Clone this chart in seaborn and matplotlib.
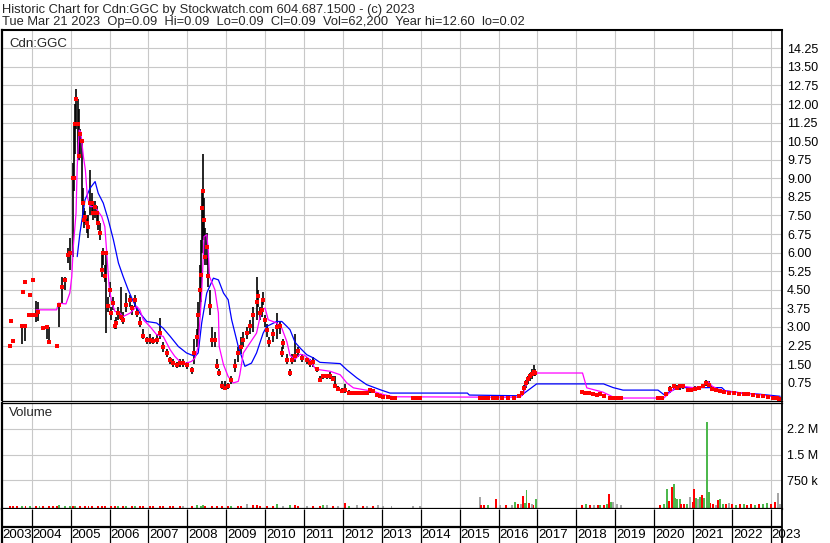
import matplotlib
matplotlib.use('Agg')
import matplotlib.pyplot as plt
import seaborn as sns

# ---- price bars (fractional year, low, high, close) ----
bar_year = [
    2003.44, 2003.47, 2003.53, 2003.75, 2003.77, 2003.83, 2003.84, 2003.93, 2003.96,
    2004.03, 2004.04, 2004.11, 2004.16, 2004.28, 2004.39, 2004.44, 2004.64, 2004.69, 2004.78, 2004.85, 2004.93, 2004.98,
    2005.05, 2005.09, 2005.12, 2005.15, 2005.18, 2005.21, 2005.25, 2005.29, 2005.32, 2005.35, 2005.38, 2005.41, 2005.46,
    2005.50, 2005.54, 2005.58, 2005.63, 2005.67, 2005.71, 2005.76, 2005.80, 2005.84, 2005.88, 2005.91, 2005.95,
    2006.00, 2006.04, 2006.08, 2006.13, 2006.17, 2006.22, 2006.30, 2006.35, 2006.43, 2006.52, 2006.57, 2006.65, 2006.70, 2006.78, 2006.87, 2006.96,
    2007.04, 2007.13, 2007.21, 2007.30, 2007.38, 2007.47, 2007.56, 2007.64, 2007.73, 2007.81, 2007.90, 2007.98,
    2008.11, 2008.18, 2008.24, 2008.28, 2008.32, 2008.35, 2008.38, 2008.40, 2008.43, 2008.46, 2008.50, 2008.54, 2008.59, 2008.63, 2008.70, 2008.76, 2008.82, 2008.90, 2008.97,
    2009.05, 2009.12, 2009.22, 2009.30, 2009.38, 2009.44, 2009.53, 2009.61, 2009.70, 2009.78, 2009.83, 2009.87, 2009.91, 2009.95,
    2010.00, 2010.05, 2010.11, 2010.20, 2010.30, 2010.38, 2010.43, 2010.47, 2010.56, 2010.64, 2010.68, 2010.77, 2010.85, 2010.95,
    2011.07, 2011.15, 2011.24, 2011.33, 2011.41, 2011.49, 2011.58, 2011.67, 2011.75, 2011.80, 2011.88, 2011.98,
    2012.05, 2012.15, 2012.27, 2012.36, 2012.45, 2012.52, 2012.62, 2012.70, 2012.78, 2012.87, 2012.95,
    2013.04, 2013.15, 2013.25, 2013.34, 2013.80, 2013.90, 2013.98,
    2015.52, 2015.62, 2015.72, 2015.85, 2015.95,
    2016.10, 2016.25, 2016.40, 2016.52, 2016.60, 2016.65, 2016.70, 2016.75, 2016.80, 2016.85, 2016.90, 2016.95,
    2018.14, 2018.22, 2018.32, 2018.42, 2018.52, 2018.62, 2018.72, 2018.86, 2018.95, 2019.05, 2019.15,
    2020.11, 2020.20, 2020.30, 2020.40, 2020.50, 2020.58, 2020.66, 2020.75, 2020.87, 2020.95,
    2021.05, 2021.15, 2021.25, 2021.33, 2021.40, 2021.50, 2021.60, 2021.70, 2021.80, 2021.92,
    2022.05, 2022.18, 2022.30, 2022.42, 2022.55, 2022.68, 2022.80, 2022.92,
    2023.05, 2023.15, 2023.22,
]
bar_low = [
    2.25, 3.22, 2.44, 2.33, 4.43, 4.83, 2.44, 3.5, 4.3,
    4.9, 3.5, 3.2, 3.22, 2.95, 2.5, 2.4, 2.25, 3.0, 3.95, 4.5, 5.6, 5.3,
    5.84, 8.5, 10.0, 11.0, 9.9, 9.74, 10.0, 8.0, 7.3, 7.0, 7.2, 6.8, 6.6,
    7.5, 7.5, 7.3, 7.4, 7.2, 6.9, 6.5, 5.0, 5.5, 4.8, 2.75, 3.6,
    4.2, 3.3, 3.7, 2.9, 2.9, 3.3, 3.3, 3.1, 3.6, 3.8, 3.5, 3.8, 3.4, 3.0, 2.5, 2.3,
    2.3, 2.3, 2.3, 2.5, 2.0, 1.8, 1.5, 1.4, 1.35, 1.4, 1.4, 1.3,
    1.1, 1.5, 2.2, 2.6, 3.5, 4.0, 6.0, 6.5, 6.5, 5.5, 5.5, 4.6, 3.5, 2.2, 2.2, 1.3, 1.0, 0.5, 0.5,
    0.5, 0.7, 1.2, 1.6, 1.9, 2.2, 2.5, 2.7, 2.8, 3.3, 3.8, 3.3, 3.4, 3.9,
    3.0, 2.6, 2.2, 2.4, 2.5, 2.7, 1.8, 2.1, 1.5, 1.0, 1.5, 1.6, 1.8, 1.6,
    1.5, 1.4, 1.4, 1.2, 0.8, 0.9, 0.9, 0.9, 0.8, 0.55, 0.45, 0.35,
    0.35, 0.3, 0.3, 0.3, 0.3, 0.3, 0.3, 0.35, 0.33, 0.2, 0.18,
    0.15, 0.15, 0.14, 0.14, 0.12, 0.12, 0.12,
    0.12, 0.13, 0.12, 0.12, 0.13,
    0.12, 0.13, 0.13, 0.15, 0.2, 0.4, 0.55, 0.7, 0.8, 0.9, 1.0, 1.0,
    0.33, 0.3, 0.3, 0.28, 0.25, 0.25, 0.2, 0.12, 0.12, 0.12, 0.1,
    0.1, 0.12, 0.2, 0.35, 0.5, 0.5, 0.45, 0.5, 0.4, 0.4,
    0.45, 0.5, 0.55, 0.6, 0.55, 0.45, 0.4, 0.35, 0.33, 0.33,
    0.3, 0.28, 0.27, 0.25, 0.22, 0.2, 0.18, 0.15,
    0.12, 0.1, 0.09,
]
bar_high = [
    2.25, 3.22, 2.44, 3.02, 4.43, 4.83, 3.02, 3.5, 4.3,
    4.9, 3.5, 4.05, 4.0, 2.95, 3.0, 3.0, 2.25, 3.95, 5.0, 5.0, 6.2, 6.6,
    9.6, 11.1, 12.0, 12.6, 12.2, 11.8, 11.0, 10.6, 8.6, 7.8, 7.7, 7.4, 7.5,
    9.34, 8.4, 8.0, 8.1, 7.9, 7.5, 7.2, 6.0, 6.2, 5.5, 6.0, 4.2,
    4.8, 3.8, 4.2, 3.3, 3.4, 3.8, 4.63, 3.6, 4.37, 4.3, 3.9, 4.3, 3.8, 3.4, 2.9, 2.6,
    2.7, 2.6, 2.7, 3.36, 2.4, 2.1, 1.8, 1.7, 1.6, 1.7, 1.7, 1.6,
    1.4, 2.5, 2.9, 4.0, 5.5, 6.5, 8.5, 10.0, 8.2, 7.0, 6.8, 5.8, 4.5, 3.0, 2.8, 1.7, 1.3, 0.8, 0.8,
    0.75, 1.0, 1.7, 2.2, 2.6, 2.8, 3.0, 3.3, 3.8, 5.0, 4.5, 3.8, 4.0, 4.4,
    3.5, 3.1, 2.6, 2.9, 3.56, 3.2, 2.2, 2.5, 1.9, 1.3, 1.9, 2.7, 2.2, 1.9,
    1.8, 1.7, 1.8, 1.4, 1.0, 1.1, 1.1, 1.2, 1.0, 1.0, 0.6, 0.55,
    0.7, 0.45, 0.4, 0.35, 0.4, 0.35, 0.4, 0.5, 0.45, 0.3, 0.22,
    0.2, 0.2, 0.18, 0.18, 0.15, 0.15, 0.14,
    0.15, 0.16, 0.15, 0.15, 0.16,
    0.16, 0.16, 0.17, 0.22, 0.4, 0.65, 0.85, 1.0, 1.15, 1.3, 1.45, 1.3,
    0.4, 0.36, 0.36, 0.33, 0.3, 0.33, 0.27, 0.15, 0.15, 0.15, 0.14,
    0.14, 0.15, 0.35, 0.6, 0.7, 0.65, 0.7, 0.7, 0.55, 0.55,
    0.6, 0.62, 0.7, 0.87, 0.8, 0.6, 0.55, 0.5, 0.45, 0.42,
    0.4, 0.38, 0.35, 0.33, 0.3, 0.28, 0.25, 0.22,
    0.18, 0.14, 0.1,
]
bar_close = [
    2.25, 3.22, 2.44, 3.02, 4.43, 4.83, 3.02, 3.5, 4.3,
    4.9, 3.5, 3.5, 3.6, 2.95, 3.0, 2.4, 2.25, 3.9, 4.6, 4.9, 5.9, 6.0,
    9.0, 9.0, 11.2, 12.2, 11.2, 9.9, 10.8, 10.5, 8.0, 7.3, 7.45, 7.2, 7.05,
    8.0, 8.0, 7.6, 7.86, 7.6, 7.2, 6.79, 5.3, 5.98, 5.04, 5.98, 3.83,
    4.5, 3.56, 3.96, 3.02, 3.16, 3.56, 3.4, 3.29, 3.9, 4.1, 3.76, 4.1, 3.56, 3.16, 2.62, 2.48,
    2.48, 2.42, 2.48, 2.75, 2.21, 1.95, 1.68, 1.54, 1.48, 1.54, 1.54, 1.48,
    1.27, 1.95, 2.6, 3.5, 4.5, 5.1, 7.8, 8.5, 7.3, 5.84, 6.24, 5.04, 3.83, 2.48, 2.48, 1.41, 1.14, 0.6, 0.55,
    0.6, 0.87, 1.41, 1.95, 2.2, 2.48, 2.75, 3.02, 3.5, 4.0, 4.23, 3.56, 3.69, 4.1,
    3.29, 2.89, 2.4, 2.7, 3.0, 3.02, 1.95, 2.35, 1.68, 1.14, 1.68, 1.81, 2.01, 1.75,
    1.68, 1.55, 1.6, 1.3, 0.87, 1.0, 1.0, 1.0, 0.9, 0.6, 0.5, 0.4,
    0.45, 0.35, 0.33, 0.33, 0.33, 0.33, 0.35, 0.47, 0.4, 0.25, 0.2,
    0.17, 0.17, 0.15, 0.15, 0.13, 0.13, 0.13,
    0.14, 0.15, 0.14, 0.14, 0.15,
    0.14, 0.15, 0.15, 0.2, 0.35, 0.55, 0.75, 0.9, 1.0, 1.1, 1.2, 1.15,
    0.36, 0.33, 0.33, 0.3, 0.27, 0.28, 0.22, 0.13, 0.13, 0.13, 0.12,
    0.12, 0.13, 0.3, 0.5, 0.6, 0.55, 0.62, 0.6, 0.45, 0.47,
    0.5, 0.55, 0.6, 0.75, 0.65, 0.5, 0.45, 0.42, 0.38, 0.35,
    0.33, 0.3, 0.3, 0.28, 0.25, 0.22, 0.2, 0.18,
    0.15, 0.12, 0.09,
]

# ---- short (magenta) and long (blue) moving averages, as drawn ----
ma_short_year = [
    2004.11, 2004.64, 2004.69, 2004.88, 2004.98, 2005.03, 2005.07, 2005.14, 2005.17, 2005.22, 2005.26,
    2005.33, 2005.38, 2005.43, 2005.50, 2005.63, 2005.71, 2005.80, 2005.88, 2005.93, 2005.99,
    2006.06, 2006.14, 2006.27, 2006.35, 2006.53, 2006.70, 2006.78, 2006.87,
    2007.04, 2007.21, 2007.38, 2007.47, 2007.56, 2007.68, 2007.85, 2007.98,
    2008.11, 2008.20, 2008.28, 2008.37, 2008.43, 2008.50, 2008.54, 2008.57, 2008.71, 2008.80, 2008.82, 2008.93,
    2009.05, 2009.18, 2009.31, 2009.35, 2009.44, 2009.61, 2009.78, 2009.91, 2010.00, 2010.08, 2010.30,
    2010.43, 2010.56, 2010.64, 2010.77, 2010.90, 2011.02, 2011.15, 2011.28, 2011.41, 2011.67, 2011.93,
    2012.10, 2012.27, 2012.52, 2012.78, 2013.04, 2013.30, 2016.55, 2016.64, 2016.72, 2016.80, 2017.00,
    2018.16, 2018.27, 2018.68, 2018.91, 2018.99, 2020.25, 2020.40, 2020.60, 2020.75, 2021.00, 2021.20,
    2021.38, 2021.50, 2021.70, 2022.00, 2022.30, 2022.70, 2023.00, 2023.24,
]
ma_short = [
    3.69, 3.69, 3.96, 3.93, 4.37, 5.03, 6.25, 7.6, 9.47, 10.95, 10.88,
    9.87, 9.34, 8.26, 7.86, 7.86, 7.66, 7.46, 7.05, 5.98, 4.63,
    3.96, 3.63, 3.56, 3.42, 3.56, 3.83, 3.69, 3.29,
    3.02, 2.69, 2.62, 2.35, 2.08, 1.81, 1.54, 1.54,
    1.61, 1.75, 2.21, 4.37, 6.65, 6.72, 6.11, 5.04, 4.5, 3.56, 2.21, 1.48,
    1.0, 0.74, 0.8, 1.07, 1.95, 2.35, 2.75, 3.69, 3.76, 3.29, 3.16,
    2.95, 2.4, 1.85, 1.7, 1.9, 1.85, 1.68, 1.34, 1.27, 1.21, 1.07,
    0.74, 0.54, 0.47, 0.4, 0.27, 0.18, 0.16, 0.3, 0.7, 1.0, 1.14,
    1.14, 0.54, 0.37, 0.2, 0.13, 0.13, 0.35, 0.6, 0.6, 0.55, 0.58,
    0.8, 0.6, 0.45, 0.38, 0.33, 0.27, 0.2, 0.15,
]
ma_long_year = [
    2005.17, 2005.24, 2005.37, 2005.50, 2005.63, 2005.71, 2005.84, 2005.97, 2006.10, 2006.23, 2006.35,
    2006.48, 2006.61, 2006.78, 2006.96, 2007.21, 2007.38, 2007.56, 2007.77, 2007.98, 2008.20, 2008.28,
    2008.37, 2008.50, 2008.67, 2008.80, 2008.93, 2009.05, 2009.14, 2009.31, 2009.48, 2009.65, 2009.78,
    2009.95, 2010.04, 2010.30, 2010.43, 2010.56, 2010.64, 2010.77, 2010.90, 2011.07, 2011.24, 2011.41,
    2011.93, 2012.10, 2012.36, 2012.61, 2012.95, 2013.21, 2015.20, 2015.25, 2016.55, 2016.64, 2016.98,
    2018.70, 2018.95, 2019.20, 2020.10, 2020.25, 2020.62, 2021.74, 2021.82, 2022.25, 2022.67, 2023.24,
]
ma_long = [
    5.84, 6.79, 8.13, 8.6, 8.87, 8.4, 8.0, 7.32, 6.52, 5.58, 5.04,
    4.5, 4.03, 3.56, 3.22, 3.16, 2.95, 2.62, 2.21, 1.95, 1.81, 1.95,
    3.16, 4.37, 4.97, 4.9, 4.37, 4.1, 3.29, 2.21, 1.41, 1.54, 1.95,
    2.75, 3.02, 3.22, 3.22, 3.02, 2.89, 2.38, 2.15, 1.88, 1.75, 1.57,
    1.52, 1.27, 0.94, 0.67, 0.47, 0.33, 0.33, 0.25, 0.22, 0.3, 0.7,
    0.7, 0.55, 0.45, 0.45, 0.27, 0.55, 0.55, 0.43, 0.33, 0.29, 0.2,
]

# ---- volume (u = up / green, d = down / red, f = unchanged / grey) ----
vol_year = [
    2003.44, 2003.53, 2003.62, 2003.75, 2003.84, 2003.96,
    2004.11, 2004.20, 2004.28, 2004.44, 2004.55, 2004.64, 2004.69, 2004.85, 2004.98,
    2005.05, 2005.12, 2005.25, 2005.38, 2005.46, 2005.54, 2005.71, 2005.80, 2005.88,
    2006.04, 2006.13, 2006.22, 2006.35, 2006.43, 2006.57, 2006.65, 2006.78, 2006.87,
    2007.04, 2007.13, 2007.30, 2007.38, 2007.56, 2007.64, 2007.81, 2007.90,
    2008.11, 2008.24, 2008.35, 2008.40, 2008.46, 2008.63, 2008.76, 2008.90,
    2009.05, 2009.12, 2009.30, 2009.38, 2009.53, 2009.70, 2009.78, 2009.87,
    2010.05, 2010.20, 2010.31, 2010.47, 2010.64, 2010.77, 2010.85,
    2011.07, 2011.24, 2011.41, 2011.49, 2011.58, 2011.75, 2011.88,
    2012.05, 2012.15, 2012.36, 2012.52, 2012.62, 2012.78, 2012.91,
    2013.04, 2013.25, 2013.80, 2013.98,
    2015.52, 2015.56, 2015.62, 2015.72, 2015.94,
    2016.05, 2016.20, 2016.35, 2016.42, 2016.50, 2016.58, 2016.64, 2016.68, 2016.72, 2016.78, 2016.85, 2016.90, 2016.96,
    2018.14, 2018.25, 2018.35, 2018.45, 2018.55, 2018.62, 2018.70, 2018.80, 2018.85, 2018.90, 2018.95, 2019.05, 2019.15,
    2020.15, 2020.25, 2020.32, 2020.38, 2020.45, 2020.50, 2020.55, 2020.60, 2020.66, 2020.70, 2020.78, 2020.85, 2020.92,
    2021.00, 2021.03, 2021.08, 2021.13, 2021.18, 2021.23, 2021.28, 2021.35, 2021.40, 2021.45, 2021.52, 2021.60,
    2021.65, 2021.70, 2021.78, 2021.85, 2021.92,
    2022.00, 2022.10, 2022.20, 2022.30, 2022.40, 2022.50, 2022.60, 2022.70, 2022.80, 2022.90,
    2023.00, 2023.10, 2023.19, 2023.24,
]
vol_value = [
    20e3, 12e3, 10e3, 15e3, 10e3, 18e3,
    12e3, 10e3, 8e3, 10e3, 12e3, 8e3, 40e3, 12e3, 15e3,
    15e3, 20e3, 15e3, 15e3, 12e3, 10e3, 12e3, 10e3, 15e3,
    10e3, 12e3, 12e3, 10e3, 10e3, 12e3, 8e3, 10e3, 10e3,
    12e3, 10e3, 12e3, 12e3, 10e3, 8e3, 12e3, 10e3,
    10e3, 35e3, 20e3, 25e3, 15e3, 12e3, 15e3, 10e3,
    12e3, 15e3, 15e3, 20e3, 58e3, 25e3, 30e3, 20e3,
    15e3, 20e3, 58e3, 20e3, 30e3, 25e3, 15e3,
    20e3, 15e3, 20e3, 45e3, 40e3, 20e3, 15e3,
    104e3, 20e3, 25e3, 20e3, 15e3, 20e3, 30e3,
    10e3, 10e3, 8e3, 8e3,
    277e3, 50e3, 25e3, 30e3, 210e3,
    30e3, 25e3, 30e3, 133e3, 60e3, 80e3, 306e3, 90e3, 470e3, 100e3, 60e3, 50e3, 200e3,
    40e3, 60e3, 30e3, 40e3, 35e3, 40e3, 30e3, 80e3, 355e3, 120e3, 120e3, 60e3, 40e3,
    40e3, 60e3, 490e3, 150e3, 565e3, 643e3, 250e3, 220e3, 200e3, 60e3, 80e3, 60e3, 280e3,
    120e3, 490e3, 250e3, 200e3, 280e3, 320e3, 250e3, 2440e3, 421e3, 100e3, 60e3, 40e3,
    180e3, 200e3, 80e3, 60e3, 100e3,
    60e3, 40e3, 80e3, 60e3, 40e3, 80e3, 50e3, 70e3, 60e3, 100e3,
    80e3, 120e3, 375e3, 62e3,
]
vol_dir = [
    'd', 'd', 'd', 'u', 'd', 'u',
    'd', 'u', 'd', 'd', 'd', 'd', 'u', 'u', 'u',
    'd', 'u', 'd', 'd', 'd', 'd', 'd', 'd', 'd',
    'd', 'd', 'u', 'd', 'u', 'd', 'u', 'd', 'd',
    'd', 'd', 'd', 'd', 'd', 'd', 'd', 'f',
    'd', 'u', 'u', 'u', 'd', 'd', 'd', 'd',
    'd', 'u', 'd', 'd', 'f', 'd', 'd', 'd',
    'd', 'd', 'u', 'f', 'u', 'd', 'd',
    'f', 'd', 'd', 'u', 'f', 'd', 'f',
    'd', 'u', 'f', 'd', 'f', 'd', 'f',
    'f', 'f', 'f', 'f',
    'f', 'd', 'd', 'u', 'd',
    'f', 'd', 'f', 'u', 'd', 'f', 'd', 'u', 'u', 'd', 'f', 'd', 'u',
    'd', 'u', 'd', 'f', 'd', 'u', 'd', 'u', 'd', 'u', 'f', 'f', 'f',
    'd', 'u', 'u', 'd', 'd', 'u', 'u', 'u', 'u', 'd', 'd', 'u', 'f',
    'd', 'd', 'u', 'f', 'u', 'd', 'u', 'u', 'u', 'd', 'd', 'f',
    'd', 'u', 'u', 'd', 'f',
    'd', 'u', 'd', 'u', 'd', 'd', 'u', 'd', 'u', 'u',
    'd', 'd', 'f', 'f',
]

year_ticks = list(range(2004, 2024))
year_labels = list(range(2003, 2024))
price_ticks = [0.75 * i for i in range(1, 20)]
vol_ticks = [750e3, 1.5e6, 2.25e6]
vol_tick_labels = ['750 k', '1.5 M', '2.2 M']

header_1 = 'Historic Chart for Cdn:GGC by Stockwatch.com 604.687.1500 - (c) 2023'
header_2 = 'Tue Mar 21 2023  Op=0.09  Hi=0.09  Lo=0.09  Cl=0.09  Vol=62,200  Year hi=12.60  lo=0.02'

assert len(bar_year) == len(bar_low) == len(bar_high) == len(bar_close)
assert len(ma_short_year) == len(ma_short) and len(ma_long_year) == len(ma_long)
assert len(vol_year) == len(vol_value) == len(vol_dir)

sns.set_style('white')
plt.rcParams['font.family'] = ['Liberation Sans', 'DejaVu Sans']
plt.rcParams['font.size'] = 9

W, H = 830, 543
fig = plt.figure(figsize=(W / 100, H / 100), dpi=100)


def box(x0, y0, x1, y1):
    # pixel box (top-left origin) -> figure fraction
    return [x0 / W, 1 - y1 / H, (x1 - x0) / W, (y1 - y0) / H]


px_year = 38.9
x_left = 2004 + (1.5 - 31.7) / px_year
x_right = 2004 + (781.5 - 31.7) / px_year
grid_c = '#c8c8c8'
vol_colors = {'u': '#4db84d', 'd': '#ff0000', 'f': '#a6a6a6'}

# price panel
ax = fig.add_axes(box(1.5, 30, 781.5, 400.5))
ax.set_xlim(x_left, x_right)
ax.set_ylim(0.03, 14.99)
ax.set_xticks(year_ticks)
ax.set_yticks(price_ticks)
ax.set_yticklabels(['{:.2f}'.format(v) for v in price_ticks])
ax.grid(True, color=grid_c, lw=0.8)
ax.set_axisbelow(True)
ax.yaxis.tick_right()
ax.tick_params(axis='x', length=0, labelbottom=False)
ax.tick_params(axis='y', length=0, pad=4, labelsize=9, labelcolor='black')

ax.vlines(bar_year, bar_low, bar_high, color='black', lw=1.2, zorder=2)
sns.lineplot(x=ma_long_year, y=ma_long, ax=ax, color='#0000ff', lw=0.9,
             estimator=None, sort=False, zorder=3)
sns.lineplot(x=ma_short_year, y=ma_short, ax=ax, color='#ff00ff', lw=0.9,
             estimator=None, sort=False, zorder=3)
sns.scatterplot(x=bar_year, y=bar_close, ax=ax, marker='s', s=5, color='#ff0000',
                linewidth=0, zorder=4)
ax.set_xlabel('')
ax.set_ylabel('')

# volume panel (bars rise from the panel floor, tops at the real volume)
vol_floor = -63e3
axv = fig.add_axes(box(1.5, 402.5, 781.5, 508.5))
axv.set_xlim(x_left, x_right)
axv.set_ylim(vol_floor, 3.009e6)
axv.set_xticks(year_ticks)
axv.set_yticks(vol_ticks)
axv.set_yticklabels(vol_tick_labels)
axv.grid(True, color=grid_c, lw=0.8)
axv.set_axisbelow(True)
axv.yaxis.tick_right()
axv.tick_params(axis='x', length=0, labelbottom=False)
axv.tick_params(axis='y', length=0, pad=4, labelsize=9, labelcolor='black')
axv.bar(vol_year, [v - vol_floor for v in vol_value], bottom=vol_floor, width=0.05,
        color=[vol_colors[d] for d in vol_dir], linewidth=0, zorder=2)

for a in (ax, axv):
    for side in ('left', 'right', 'top', 'bottom'):
        a.spines[side].set_color('black')
    a.spines['left'].set_linewidth(1.6)
    a.spines['right'].set_linewidth(1.3)
ax.spines['top'].set_linewidth(1.5)
ax.spines['bottom'].set_linewidth(0.9)
axv.spines['top'].set_linewidth(0.9)
axv.spines['bottom'].set_linewidth(1.6)

# date band under the volume panel
axd = fig.add_axes(box(1.5, 508.5, 781.5, 543))
axd.set_xlim(x_left, x_right)
axd.set_ylim(0, 34.5)
axd.set_xticks([])
axd.set_yticks([])
for side in ('top', 'bottom'):
    axd.spines[side].set_visible(False)
axd.spines['left'].set_linewidth(1.6)
axd.spines['right'].set_linewidth(1.3)
axd.spines['left'].set_color('black')
axd.spines['right'].set_color('black')
axd.vlines(year_ticks, 0, 34.5, color='black', lw=0.9)
axd.axhline(16, color='black', lw=1.6)
for yr in year_labels:
    axd.text(max(yr, x_left) + 1.0 / px_year, 7.5, str(yr), ha='left', va='center',
             fontsize=9.5, color='black', clip_on=False)

fig.text(2 / W, 1 - 10.5 / H, header_1, ha='left', va='center', fontsize=9.3)
fig.text(2 / W, 1 - 22 / H, header_2, ha='left', va='center', fontsize=9.3)
fig.text(9 / W, 1 - 44 / H, 'Cdn:GGC', ha='left', va='center', fontsize=9.5)
fig.text(9 / W, 1 - 413 / H, 'Volume', ha='left', va='center', fontsize=9.5)

fig.savefig('out.png', dpi=100)
